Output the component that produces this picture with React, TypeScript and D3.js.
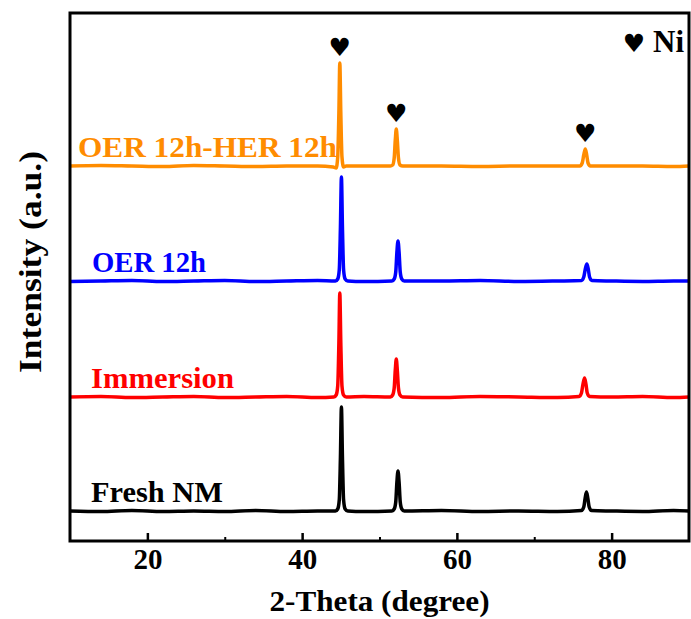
import * as d3 from "d3";
import React, { useEffect, useRef } from "react";

// 2-theta (deg) vs intensity (a.u.)
const fresh = [
  [10, 1], [14, 0.5], [18, 1.5], [22, 0.5], [26, 1], [30, 0.5], [34, 1.5], [38, 0.5],
  [42, 1], [44.3, 1], [44.6, 3], [44.8, 12], [44.95, 55], [45.08, 105], [45.21, 55],
  [45.36, 12], [45.56, 3], [45.9, 1], [48, 0.5], [51.6, 1], [51.9, 3], [52.1, 10],
  [52.25, 30], [52.39, 41], [52.53, 30], [52.68, 10], [52.88, 3], [53.2, 1], [58, 1.5],
  [63, 0.5], [68, 1], [73, 0.5], [76.1, 1.5], [76.4, 5], [76.58, 14], [76.75, 20],
  [76.92, 14], [77.1, 5], [77.4, 1.5], [80, 1], [84, 0.5], [88, 1.5], [90, 1]
];
const immersion = [
  [10, 1], [14, 1.5], [18, 0.5], [22, 1], [26, 1.5], [30, 0.5], [34, 1], [38, 1.5],
  [42, 0.5], [44.1, 1], [44.4, 3], [44.6, 12], [44.75, 55], [44.87, 105], [45.0, 55],
  [45.15, 12], [45.35, 3], [45.7, 1], [48, 1.5], [51.4, 1], [51.7, 3], [51.9, 10],
  [52.04, 28], [52.17, 39], [52.3, 28], [52.45, 10], [52.65, 3], [53, 1], [58, 0.5],
  [63, 1.5], [68, 1], [73, 0.5], [75.8, 1.5], [76.1, 5], [76.3, 14], [76.5, 20],
  [76.68, 14], [76.85, 5], [77.15, 1.5], [80, 1], [84, 1.5], [88, 0.5], [90, 1]
];
const oer = [
  [10, 0.5], [14, 1], [18, 1.5], [22, 0.5], [26, 1], [30, 1.5], [34, 0.5], [38, 1],
  [42, 1.5], [44.3, 1], [44.6, 3], [44.8, 12], [44.95, 55], [45.08, 105], [45.21, 55],
  [45.36, 12], [45.56, 3], [45.9, 1], [48, 0.5], [51.6, 1], [51.9, 3], [52.1, 10],
  [52.25, 30], [52.39, 41], [52.53, 30], [52.68, 10], [52.88, 3], [53.2, 1], [58, 1],
  [63, 1.5], [68, 0.5], [73, 1], [76.1, 1.5], [76.4, 5], [76.6, 13], [76.8, 18],
  [76.98, 13], [77.15, 5], [77.45, 1.5], [80, 1], [84, 0.5], [88, 1], [90, 1]
];
const oerHer = [
  [10, 1], [14, 1.5], [18, 1], [22, 0.5], [26, 1.5], [30, 1], [34, 0.5], [38, 1],
  [42, 1], [44.0, 0], [44.4, -1], [44.6, 10], [44.75, 54], [44.87, 104], [45.0, 54],
  [45.15, 10], [45.35, 0], [45.7, 1], [48, 1], [51.4, 1], [51.7, 2], [51.9, 9],
  [52.04, 27], [52.17, 38], [52.3, 27], [52.45, 9], [52.65, 2], [53, 1], [58, 1],
  [63, 0.5], [68, 1], [73, 1], [75.9, 1], [76.2, 4], [76.4, 12], [76.6, 18],
  [76.78, 12], [76.95, 4], [77.25, 1], [80, 1], [84, 1], [88, 0.5], [90, 1]
];

const seriesNames = ["Fresh NM", "Immersion", "OER 12h", "OER 12h-HER 12h"];
const seriesData = [fresh, immersion, oer, oerHer];
const seriesColors = ["#000000", "#ff0000", "#0000ff", "#ff8c00"];
const seriesOffsets = [29, 143, 259, 374];
const labelX = [91, 91, 92, 78];
const labelWidth = [132, 143, 114, 259];

const niPeaks = [[44.87, 104], [52.17, 38], [76.6, 18]];
const xTicks = [20, 40, 60, 80];
const xMinorTicks = [30, 50, 70];

const font = "'Liberation Serif', 'Times New Roman', serif";

export default function App() {
  const ref = useRef(null);

  useEffect(() => {
    const W = 691, H = 619;
    const margin = { left: 70, right: 2, top: 13, bottom: 78 };
    const width = W - margin.left - margin.right;
    const height = H - margin.top - margin.bottom;

    const svg = d3.select(ref.current);
    svg.selectAll("*").remove();

    const g = svg.append("g")
      .attr("transform", `translate(${margin.left},${margin.top})`);

    const x = d3.scaleLinear().domain([10, 90]).range([0, width]);
    const y = d3.scaleLinear().domain([0, height]).range([height, 0]);

    const line = d3.line()
      .x(d => x(d[0]))
      .y(d => y(d[1]))
      .curve(d3.curveMonotoneX);

    seriesData.forEach((data, i) => {
      const shifted = data.map(d => [d[0], d[1] + seriesOffsets[i]]);
      g.append("path")
        .attr("fill", "none")
        .attr("stroke", seriesColors[i])
        .attr("stroke-width", 3.5)
        .attr("stroke-linejoin", "round")
        .attr("d", line(shifted));

      g.append("text")
        .attr("x", labelX[i] - margin.left)
        .attr("y", y(seriesOffsets[i]) - 10)
        .attr("fill", seriesColors[i])
        .attr("textLength", labelWidth[i])
        .attr("lengthAdjust", "spacingAndGlyphs")
        .style("font-family", font)
        .style("font-weight", "bold")
        .style("font-size", "29px")
        .text(seriesNames[i]);
    });

    // heart markers above top pattern
    const top = seriesOffsets[3];
    niPeaks.forEach(p => {
      g.append("text")
        .attr("x", x(p[0]))
        .attr("y", y(p[1] + top) - 7)
        .attr("text-anchor", "middle")
        .style("font-family", "'DejaVu Sans', sans-serif")
        .style("font-size", "25px")
        .text("\u2665");
    });

    // legend
    g.append("text")
      .attr("x", 634 - margin.left)
      .attr("y", 52 - margin.top)
      .attr("text-anchor", "middle")
      .style("font-family", "'DejaVu Sans', sans-serif")
      .style("font-size", "25px")
      .text("\u2665");
    g.append("text")
      .attr("x", 653 - margin.left)
      .attr("y", 52 - margin.top)
      .style("font-family", font)
      .style("font-weight", "bold")
      .style("font-size", "31px")
      .text("Ni");

    // x axis with inward ticks
    const xAxis = g.append("g").attr("transform", `translate(0,${height})`);
    xAxis.call(d3.axisBottom(x).tickValues(xTicks).tickSizeInner(-8).tickSizeOuter(0).tickPadding(6));
    xAxis.selectAll(".domain").remove();
    xAxis.selectAll("line").attr("stroke", "#000").attr("stroke-width", 2.5);
    xAxis.selectAll("text")
      .attr("dy", "0.75em")
      .style("font-family", font)
      .style("font-weight", "bold")
      .style("font-size", "29px")
      .attr("fill", "#000");
    const minor = g.append("g").attr("transform", `translate(0,${height})`);
    minor.call(d3.axisBottom(x).tickValues(xMinorTicks).tickSizeInner(-4).tickSizeOuter(0).tickFormat(() => ""));
    minor.selectAll(".domain").remove();
    minor.selectAll("line").attr("stroke", "#000").attr("stroke-width", 2);

    // frame
    g.append("rect")
      .attr("width", width)
      .attr("height", height)
      .attr("fill", "none")
      .attr("stroke", "#000")
      .attr("stroke-width", 3);

    // axis titles
    g.append("text")
      .attr("x", width / 2)
      .attr("y", height + 70)
      .attr("text-anchor", "middle")
      .attr("textLength", 220)
      .attr("lengthAdjust", "spacingAndGlyphs")
      .style("font-family", font)
      .style("font-weight", "bold")
      .style("font-size", "30px")
      .text("2-Theta (degree)");
    g.append("text")
      .attr("transform", `translate(${41 - margin.left},${262 - margin.top}) rotate(-90)`)
      .attr("text-anchor", "middle")
      .attr("textLength", 222)
      .attr("lengthAdjust", "spacingAndGlyphs")
      .style("font-family", font)
      .style("font-weight", "bold")
      .style("font-size", "31px")
      .text("Intensity (a.u.)");
  }, []);

  return (
    <svg ref={ref} width={691} height={619}
      style={{ position: "absolute", left: 0, top: 0, background: "#fff" }} />
  );
}
